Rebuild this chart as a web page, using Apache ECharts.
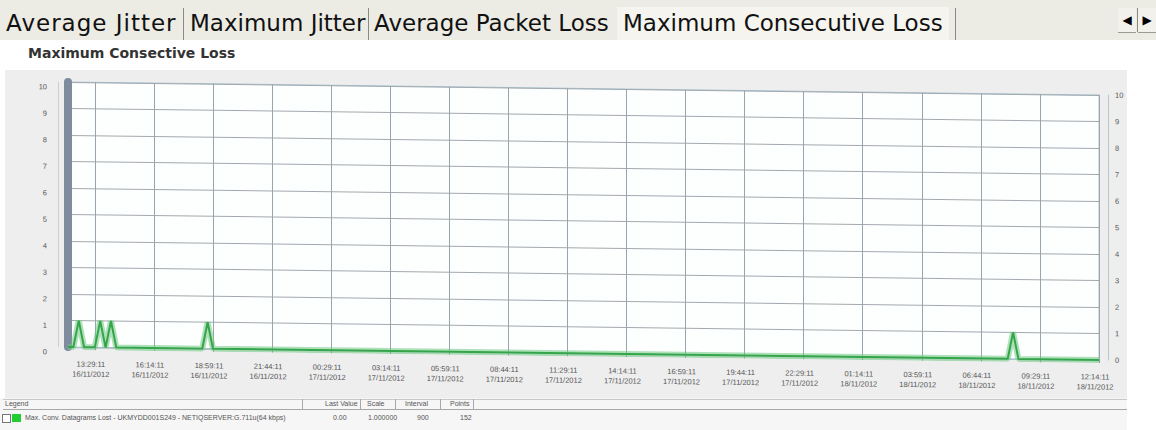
<!DOCTYPE html>
<html>
<head>
<meta charset="utf-8">
<title>Maximum Consective Loss</title>
<script src="https://cdn.jsdelivr.net/npm/echarts@6/dist/echarts.min.js"></script>
<style>
html, body { margin: 0; padding: 0; }
body {
  width: 1156px; height: 430px; position: relative; overflow: hidden;
  background: #fff; font-family: "DejaVu Sans", sans-serif;
}
.tabs { position: absolute; left: 0; top: 0; width: 1156px; height: 40px; background: #ecebe4; }
.tab { position: absolute; top: 7px; height: 33px; line-height: 33px; font-size: 23px; color: #111; white-space: nowrap; }
.tab.active { background: #f5f4ef; padding: 0 6px; }
.sep { position: absolute; top: 8px; width: 1px; height: 32px; background: #8c8a80; }
.arrow { position: absolute; top: 8px; width: 18px; height: 24px; line-height: 24px; text-align: center;
  font-size: 12px; color: #000; background: #f2f1ec; border-bottom: 1px solid #9c9a90; }
.title { position: absolute; left: 28px; top: 45px; font-size: 14px; font-weight: bold; color: #333; }
.panel { position: absolute; left: 5px; top: 70px; width: 1122px; height: 328px; background: #eeeeee; }
.legend-bg { position: absolute; left: 0; top: 398px; width: 1127px; height: 32px; background: #f6f6f6; }
#chart {
  position: absolute; left: 0; top: 0; width: 1156px; height: 400px;
  transform: skewY(0.72deg); transform-origin: 68px 347px;
}
.lg { position: absolute; font-family: "Liberation Sans", sans-serif; font-size: 7px; color: #555; white-space: nowrap; }
.hl { position: absolute; height: 1px; background: #a8a8a8; }
.vl { position: absolute; width: 1px; background: #a8a8a8; }
</style>
</head>
<body>
<div class="tabs">
  <div class="tab" style="left:6px;letter-spacing:1px">Average Jitter</div>
  <div class="sep" style="left:183px"></div>
  <div class="tab" style="left:190px">Maximum Jitter</div>
  <div class="sep" style="left:368px"></div>
  <div class="tab" style="left:374px">Average Packet Loss</div>
  <div class="tab active" style="left:617px">Maximum Consecutive Loss</div>
  <div class="sep" style="left:955px"></div>
  <div class="arrow" style="left:1118px">&#9664;</div>
  <div class="sep" style="left:1137px;height:24px"></div>
  <div class="arrow" style="left:1138px">&#9654;</div>
</div>
<div class="title">Maximum Consective Loss</div>
<div class="panel"></div>
<div class="legend-bg"></div>
<div id="chart"></div>

<div class="hl" style="left:3px;top:399px;width:1124px;background:#c8c8c8"></div>
<div class="hl" style="left:3px;top:409px;width:1124px"></div>
<div class="vl" style="left:302px;top:399px;height:10px"></div>
<div class="vl" style="left:360px;top:399px;height:10px"></div>
<div class="vl" style="left:395px;top:399px;height:10px"></div>
<div class="vl" style="left:440px;top:399px;height:10px"></div>
<div class="vl" style="left:473px;top:399px;height:10px"></div>
<div class="lg" style="left:5px;top:400px">Legend</div>
<div class="lg" style="left:325px;top:400px">Last Value</div>
<div class="lg" style="left:367px;top:400px">Scale</div>
<div class="lg" style="left:405px;top:400px">Interval</div>
<div class="lg" style="left:450px;top:400px">Points</div>
<div class="lg" style="left:2px;top:414px;width:7px;height:7px;border:1px solid #777;background:#fff"></div>
<div class="lg" style="left:12px;top:414px;width:9px;height:8px;background:#22cc33"></div>
<div class="lg" style="left:25px;top:414px">Max. Conv. Datagrams Lost - UKMYDD001S249 - NETIQSERVER:G.711u(64 kbps)</div>
<div class="lg" style="left:333px;top:414px">0.00</div>
<div class="lg" style="left:368px;top:414px">1.000000</div>
<div class="lg" style="left:417px;top:414px">900</div>
<div class="lg" style="left:460px;top:414px">152</div>

<script>
// 15 minute samples, 12:14:11 16/11/2012 .. 12:14:11 18/11/2012
const startTime = Date.UTC(2012, 10, 16, 12, 14, 11);
const stepMs = 15 * 60 * 1000;
const slotCount = 193;

const tickLabels = [
  '13:29:11\n16/11/2012', '16:14:11\n16/11/2012', '18:59:11\n16/11/2012', '21:44:11\n16/11/2012',
  '00:29:11\n17/11/2012', '03:14:11\n17/11/2012', '05:59:11\n17/11/2012', '08:44:11\n17/11/2012',
  '11:29:11\n17/11/2012', '14:14:11\n17/11/2012', '16:59:11\n17/11/2012', '19:44:11\n17/11/2012',
  '22:29:11\n17/11/2012', '01:14:11\n18/11/2012', '03:59:11\n18/11/2012', '06:44:11\n18/11/2012',
  '09:29:11\n18/11/2012', '12:14:11\n18/11/2012'
];
const firstLabelSlot = 5;
const labelEvery = 11;

const yTicks = [0, 1, 2, 3, 4, 5, 6, 7, 8, 9, 10];

// [slot index, max consecutive datagrams lost]
const lossPoints = [
  [0, 0], [1, 0], [2, 1], [3, 0],
  [5, 0], [6, 1], [7, 0], [8, 1], [9, 0],
  [25, 0], [26, 1], [27, 0],
  [175, 0], [176, 1], [177, 0],
  [192, 0]
];

const pad = n => String(n).padStart(2, '0');
const categories = [];
for (let i = 0; i < slotCount; i++) {
  const d = new Date(startTime + i * stepMs);
  categories.push(pad(d.getUTCHours()) + ':' + pad(d.getUTCMinutes()) + ':' + pad(d.getUTCSeconds()) +
    ' ' + pad(d.getUTCDate()) + '/' + pad(d.getUTCMonth() + 1) + '/' + d.getUTCFullYear());
}

const isLabelSlot = idx => idx >= firstLabelSlot && (idx - firstLabelSlot) % labelEvery === 0;

const chart = echarts.init(document.getElementById('chart'), null, { renderer: 'svg' });

const yBase = {
  type: 'value',
  min: yTicks[0],
  max: yTicks[yTicks.length - 1],
  interval: 1
};

const option = {
  animation: false,
  grid: {
    left: 68, right: 57, top: 82, bottom: 53,
    show: true, backgroundColor: '#fdfefe', borderColor: '#a9c6d4', borderWidth: 1
  },
  xAxis: {
    type: 'category',
    data: categories,
    boundaryGap: false,
    offset: 8,
    axisLine: { lineStyle: { color: '#b4c4d2' } },
    axisTick: { interval: isLabelSlot, length: 3, lineStyle: { color: '#8a9aa8' } },
    axisLabel: {
      interval: isLabelSlot,
      formatter: (v, i) => tickLabels[(i - firstLabelSlot) / labelEvery],
      fontFamily: 'Liberation Sans', fontSize: 7.5, lineHeight: 10, color: '#555',
      margin: 4, padding: [0, 8, 0, 0]
    },
    splitLine: { show: true, interval: isLabelSlot, lineStyle: { color: '#98a4ae' } }
  },
  yAxis: [
    Object.assign({}, yBase, {
      position: 'left',
      axisLine: { show: true, lineStyle: { color: '#7f8c9e', width: 8 } },
      axisTick: { show: false },
      axisLabel: { show: false },
      splitLine: { lineStyle: { color: '#a2a9ae' } }
    }),
    Object.assign({}, yBase, {
      position: 'left',
      offset: 10,
      axisLine: { show: true, lineStyle: { color: '#c6d0d8' } },
      axisTick: { show: false },
      axisLabel: {
        margin: 11, fontFamily: 'Liberation Sans', fontSize: 7.5, color: '#555',
        verticalAlign: 'top', padding: [1, 0, 0, 0]
      },
      splitLine: { show: false }
    }),
    Object.assign({}, yBase, {
      position: 'right',
      offset: 9,
      axisLine: { show: true, lineStyle: { color: '#b9c5cd' } },
      axisTick: { show: false },
      axisLabel: { margin: 7, fontFamily: 'Liberation Sans', fontSize: 7.5, color: '#555' },
      splitLine: { show: false }
    })
  ],
  series: [
    {
      name: 'ribbon',
      type: 'line',
      data: lossPoints,
      symbol: 'none',
      silent: true,
      lineStyle: { width: 6, color: 'rgba(110, 200, 130, 0.55)' },
      z: 2
    },
    {
      name: 'Max. Conv. Datagrams Lost',
      type: 'line',
      data: lossPoints,
      symbol: 'none',
      lineStyle: { width: 2, color: '#34a548' },
      z: 3
    }
  ]
};

chart.setOption(option);
</script>
</body>
</html>
